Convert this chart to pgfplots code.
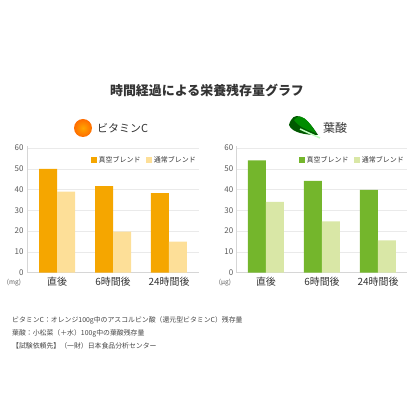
\documentclass[border=0pt]{standalone}
\usepackage{fontspec}
\setmainfont{Noto Sans CJK JP}
\usepackage{pgfplots}
\pgfplotsset{compat=1.18}
\definecolor{orA}{HTML}{F5A600}
\definecolor{orB}{HTML}{FDDF98}
\definecolor{grA}{HTML}{74B62C}
\definecolor{grB}{HTML}{D9E7A6}
\definecolor{gridc}{HTML}{EAEAEA}
\definecolor{axc}{HTML}{D6D6D6}
\definecolor{txt}{HTML}{333333}
\definecolor{tickc}{HTML}{5A5A5A}
\definecolor{notec}{HTML}{444444}
\pgfplotsset{
  mybar/.style={
    ybar, scale only axis, height=126.8bp, ymin=0, ymax=61,
    ytick={0,10,...,60}, xtick={0,1,2},
    xticklabels={直後,6時間後,24時間後},
    axis x line*=bottom, axis y line*=left,
    axis line style={draw=axc, line width=0.7bp},
    ymajorgrids, grid style={draw=gridc, line width=0.5bp},
    major tick length=0pt, tick style={draw=none},
    yticklabel style={font=\fontsize{8}{9}\selectfont, text=tickc},
    xticklabel style={font=\fontsize{10}{11}\selectfont, text=txt, yshift=-1bp},
    /pgf/number format/assume math mode=true,
    bar width=18bp,
    legend columns=2,
    legend style={draw=none, fill=none, at={(rel axis cs:1,1)}, anchor=north east,
      xshift=2bp, yshift=-6bp,
      font=\fontsize{7}{8}\selectfont, text=txt,
      /tikz/every even column/.append style={column sep=4bp}},
  },
  sq/.style={draw=none, fill=#1,
    legend image code/.code={\fill[#1] (0bp,-2.7bp) rectangle (5.5bp,2.8bp);}},
}
\begin{document}
\begin{tikzpicture}
\useasboundingbox (0,0) rectangle (416bp,416bp);
% title
\node[font=\bfseries\fontsize{13}{14}\selectfont, text=txt] at (207bp,326bp) {時間経過による栄養残存量グラフ};
% orange icon
\shade[inner color=orange!70!yellow, outer color=orange!85!red] (83bp,288bp) circle (9bp);
\node[anchor=west, font=\fontsize{11}{12}\selectfont, text=txt, inner sep=0pt] at (97bp,288bp) {ビタミンC};
% leaf icon
\fill[green!35!black] (289bp,291bp) .. controls (293bp,306bp) and (305bp,302bp) .. (318bp,281bp) .. controls (306bp,281bp) and (292bp,283bp) .. cycle;
\fill[green!55!black] (294bp,296bp) .. controls (300bp,304bp) and (308bp,297bp) .. (316bp,283bp) .. controls (307bp,286bp) and (299bp,289bp) .. cycle;
\draw[green!25!white, line width=1.5bp] (300bp,287bp) -- (320bp,278bp);
\node[anchor=west, font=\fontsize{12}{13}\selectfont, text=txt, inner sep=0pt] at (323bp,288bp) {葉酸};

% left chart
\begin{axis}[mybar, at={(27bp,143.3bp)}, anchor=south west, width=172bp,
  xmin=-0.536, xmax=2.536]
\addplot[sq=orA, bar shift=-9bp] coordinates {(0,50) (1,41.7) (2,38.3)};
\addplot[sq=orB, bar shift=9bp] coordinates {(0,39) (1,19.8) (2,15)};
\legend{真空ブレンド,通常ブレンド}
\end{axis}
\node[font=\fontsize{6.5}{7}\selectfont, text=tickc] at (14bp,133bp) {(mg)};

% right chart
\begin{axis}[mybar, at={(236.7bp,143.3bp)}, anchor=south west, width=170.3bp,
  xmin=-0.523, xmax=2.518]
\addplot[sq=grA, bar shift=-9bp] coordinates {(0,54) (1,44.2) (2,39.8)};
\addplot[sq=grB, bar shift=9bp] coordinates {(0,34.1) (1,24.7) (2,15.5)};
\legend{真空ブレンド,通常ブレンド}
\end{axis}
\node[font=\fontsize{6.5}{7}\selectfont, text=tickc] at (225bp,133bp) {(μg)};

% notes
\begin{scope}[every node/.style={anchor=west, inner sep=0pt, font=\fontsize{6.9}{8}\selectfont, text=notec}]
\node at (12bp,96bp) {ビタミンC：オレンジ100g中のアスコルビン酸（還元型ビタミンC）残存量};
\node at (12bp,83bp) {葉酸：小松菜（＋水）100g中の葉酸残存量};
\node at (12bp,70bp) {【試験依頼先】（一財）日本食品分析センター};
\end{scope}
\end{tikzpicture}
\end{document}
